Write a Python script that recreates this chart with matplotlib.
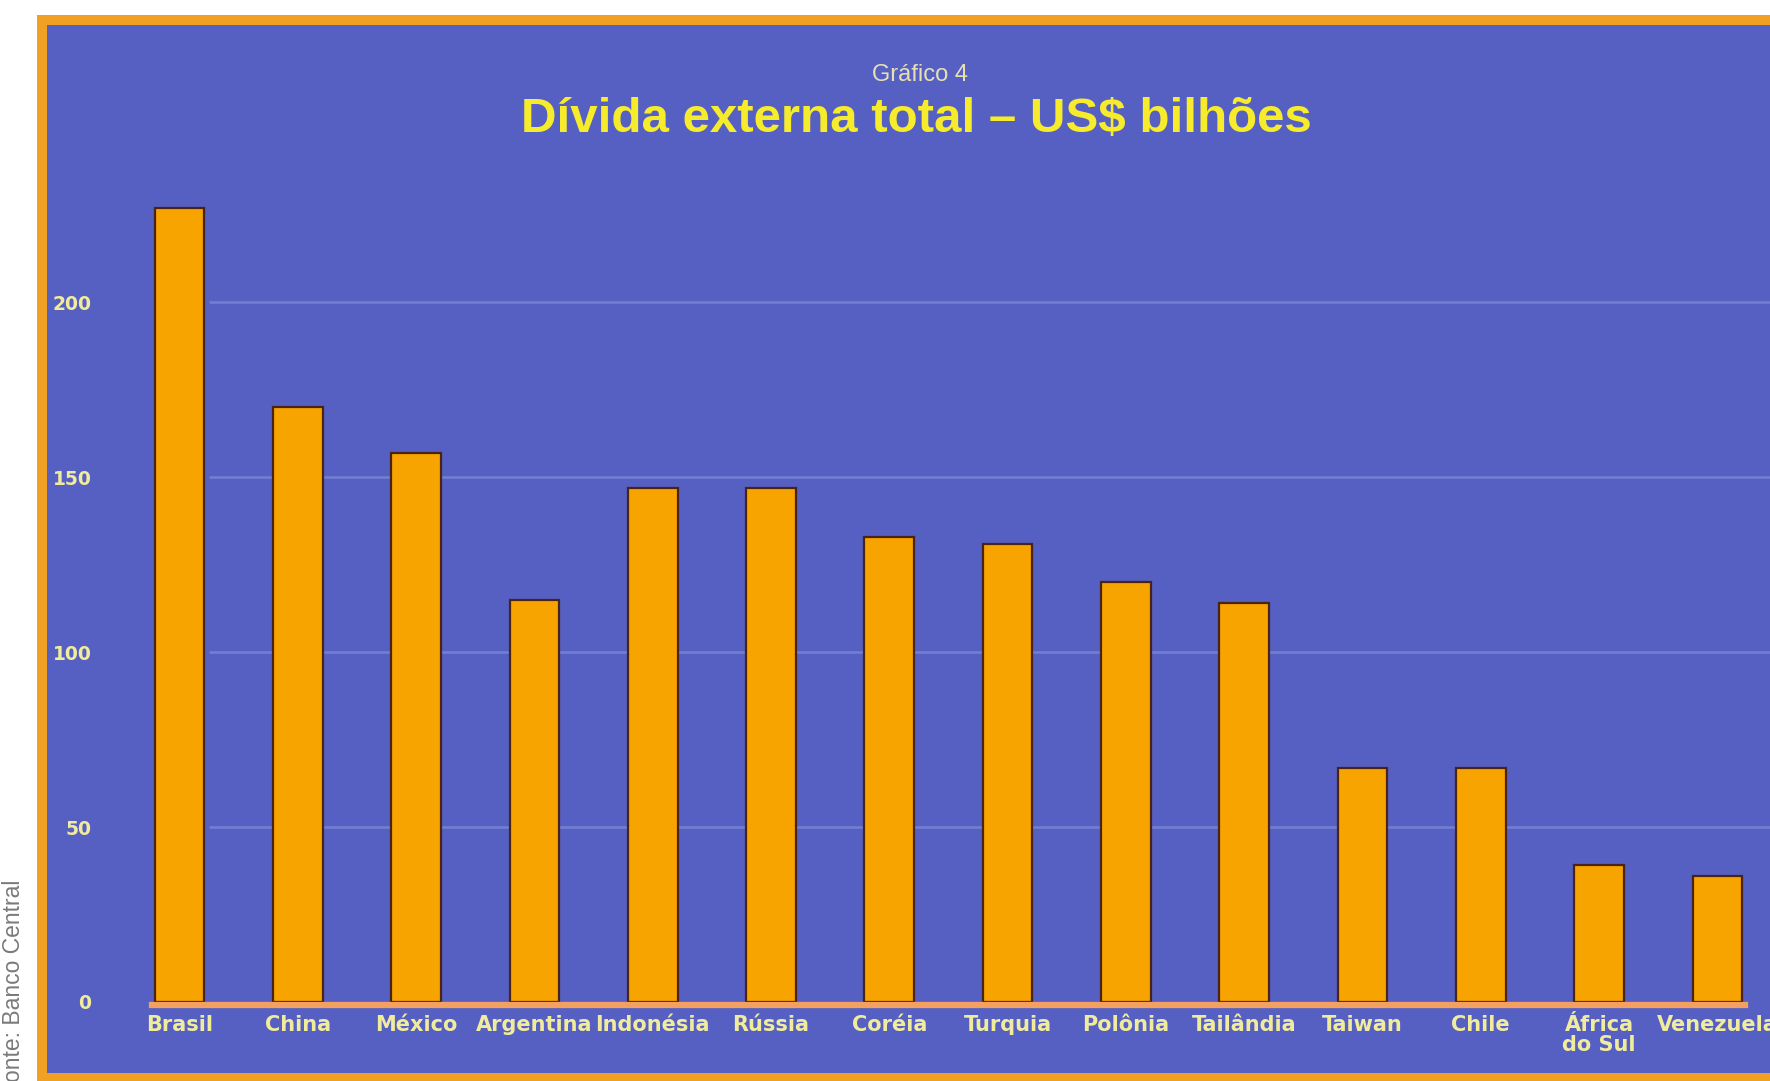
import matplotlib
matplotlib.use("Agg")
import matplotlib.pyplot as plt
from matplotlib.patches import Rectangle

# external debt by country, US$ billions
countries = ['Brasil', 'China', 'México', 'Argentina', 'Indonésia', 'Rússia', 'Coréia',
             'Turquia', 'Polônia', 'Tailândia', 'Taiwan', 'Chile', 'África\ndo Sul', 'Venezuela']
debt = [227, 170, 157, 115, 147, 147, 133, 131, 120, 114, 67, 67, 39, 36]
y_ticks = [0, 50, 100, 150, 200]

blue = '#5660c2'
orange = '#f7a300'
frame_orange = '#f2a023'
grid_blue = '#7380d2'
label_yellow = '#f1ec9c'
title_yellow = '#f6ec2c'

fig = plt.figure(figsize=(17.7, 10.81), dpi=100)
fig.patch.set_facecolor('white')

# orange frame round the blue panel (runs off the right edge like the scan)
fig.patches.append(Rectangle((37 / 1770, 0), 1.0, 1 - 15 / 1081, transform=fig.transFigure,
                             facecolor=frame_orange, edgecolor='none', zorder=-5))

ax = fig.add_axes([47 / 1770, 8 / 1081, 1 - 47 / 1770, (1073 - 25) / 1081])
ax.set_zorder(1)
ax.set_facecolor(blue)

x = list(range(len(countries)))
ax.bar(x, debt, width=0.42, color=orange, edgecolor='#4a2412', linewidth=1.6, zorder=3)

# faint gridlines
ax.hlines(y_ticks[1:], 0.25, len(countries), color=grid_blue, linewidth=1.8, zorder=1)

ax.set_xlim(-1.12, 13.445)
ax.set_ylim(-20.3, 279.2)

for side in ['top', 'right', 'left']:
    ax.spines[side].set_visible(False)
ax.spines['bottom'].set_position(('data', -1))
ax.spines['bottom'].set_bounds(-0.23, 13.23)
ax.spines['bottom'].set_color('#f4a060')
ax.spines['bottom'].set_linewidth(4.5)
ax.spines['bottom'].set_zorder(4)

ax.set_xticks(x)
ax.set_xticklabels(countries, fontfamily='DejaVu Sans', fontweight='bold', fontsize=15,
                   color=label_yellow, linespacing=1.0)
ax.tick_params(axis='x', length=0, pad=7)

ax.set_yticks(y_ticks)
ax.set_yticklabels([str(v) for v in y_ticks], fontfamily='DejaVu Sans', fontweight='bold',
                   fontsize=13.5, color=label_yellow)
ax.tick_params(axis='y', length=0, pad=-32)

# titles
fig.text(920 / 1770, 1 - 75 / 1081, 'Gráfico 4', ha='center', va='center',
         fontfamily='Liberation Sans', fontsize=17, color='#e8e0b0')
fig.text(916 / 1770, 1 - 132 / 1081, 'Dívida externa total – US$ bilhões', ha='center',
         va='baseline', fontfamily='Liberation Sans', fontweight='bold', fontsize=35.5,
         color=title_yellow)

# source note printed sideways in the margin
fig.text(14 / 1770, 1 - 880 / 1081, 'Fonte: Banco Central', rotation=90, ha='center', va='top',
         fontfamily='Liberation Sans', fontsize=16.5, color='#7a7a7a')

fig.savefig('out.png', dpi=100, facecolor=fig.get_facecolor())
